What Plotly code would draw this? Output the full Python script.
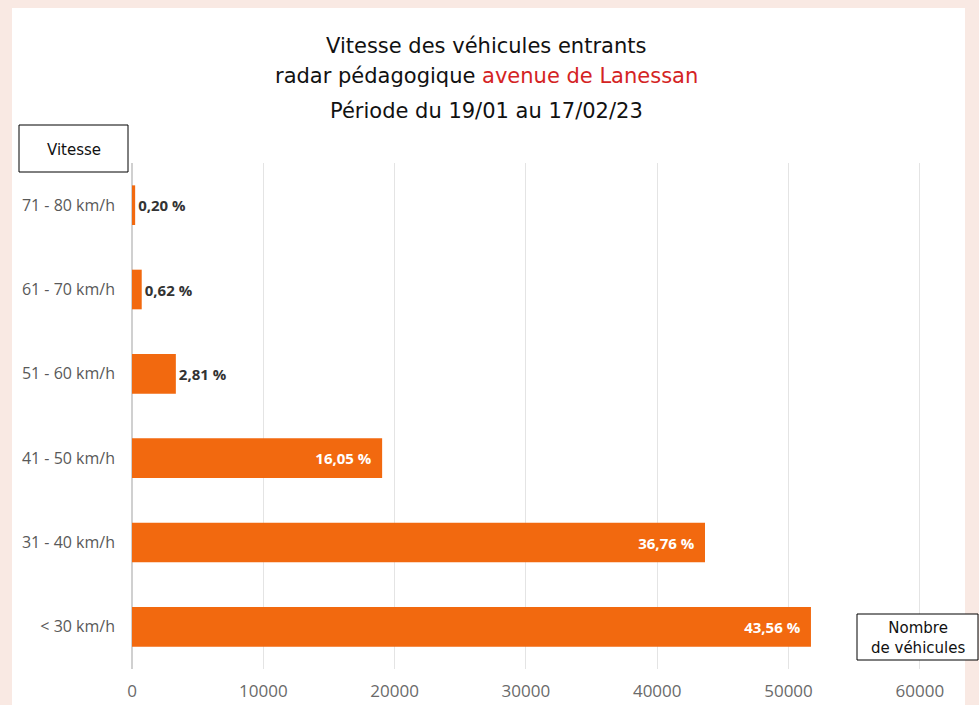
import plotly.graph_objects as go

categories = ["< 30 km/h", "31 - 40 km/h", "41 - 50 km/h", "51 - 60 km/h", "61 - 70 km/h", "71 - 80 km/h"]
vehicles = [51710, 43640, 19050, 3340, 740, 240]
pct_labels = ["43,56 %", "36,76 %", "16,05 %", "2,81 %", "0,62 %", "0,20 %"]
x_ticks = [0, 10000, 20000, 30000, 40000, 50000, 60000]

positions = ["inside", "inside", "inside", "outside", "outside", "outside"]
text_colors = ["white", "white", "white", "#333333", "#333333", "#333333"]
bar_text = [("<b>" + t + "</b>\u00a0\u00a0") if p == "inside" else ("<b>" + t + "</b>")
            for t, p in zip(pct_labels, positions)]

fig = go.Figure()
fig.add_trace(go.Bar(
    y=categories, x=vehicles, orientation="h",
    marker=dict(color="#f2690f", line=dict(width=0)),
    width=0.47,
    text=bar_text, textposition=positions,
    insidetextanchor="end",
    textfont=dict(color=text_colors, size=15, family="Open Sans"),
    cliponaxis=False,
))

W, H = 979, 705
L, R, T, B = 132, 24, 163, 36
pw, ph = W - L - R, H - T - B

def px(x):
    return (x - L) / pw

def py(y):
    return (H - B - y) / ph

shapes = [
    dict(type="rect", xref="paper", yref="paper", x0=px(12), x1=px(965), y0=py(720), y1=py(8),
         fillcolor="white", line=dict(width=0), layer="below"),
    dict(type="rect", xref="paper", yref="paper", x0=px(19), x1=px(128), y0=py(172), y1=py(125),
         fillcolor="white", line=dict(color="black", width=1)),
    dict(type="rect", xref="paper", yref="paper", x0=px(857), x1=px(978), y0=py(660), y1=py(614),
         fillcolor="white", line=dict(color="black", width=1)),
]

tfont = dict(family="DejaVu Sans", size=21, color="#111111")
annotations = [
    dict(text="Vitesse des véhicules entrants", x=px(486), y=py(46), xref="paper", yref="paper",
         showarrow=False, font=tfont, xanchor="center", yanchor="middle"),
    dict(text="radar pédagogique <span style='color:#d42323'>avenue de Lanessan</span>", x=px(486), y=py(76),
         xref="paper", yref="paper", showarrow=False, font=tfont, xanchor="center", yanchor="middle"),
    dict(text="Période du 19/01 au 17/02/23", x=px(486), y=py(111), xref="paper", yref="paper",
         showarrow=False, font=tfont, xanchor="center", yanchor="middle"),
    dict(text="Vitesse", x=px(73.5), y=py(150), xref="paper", yref="paper", showarrow=False,
         font=dict(family="DejaVu Sans", size=15, color="#111111"), xanchor="center", yanchor="middle"),
    dict(text="Nombre<br>de véhicules", x=px(917.5), y=py(638), xref="paper", yref="paper", showarrow=False,
         font=dict(family="DejaVu Sans", size=15, color="#111111"), xanchor="center", yanchor="middle"),
]

fig.update_layout(
    width=W, height=H,
    margin=dict(l=L, r=R, t=T, b=B, autoexpand=False),
    paper_bgcolor="#f9e9e3", plot_bgcolor="white",
    showlegend=False,
    shapes=shapes, annotations=annotations,
    bargap=0.5,
    uniformtext=dict(minsize=8, mode="show"),
)
fig.update_xaxes(range=[0, 62680], tickvals=x_ticks, ticktext=[str(v) for v in x_ticks],
                 showgrid=True, gridcolor="#e4e4e4", gridwidth=1, zeroline=True, zerolinecolor="#d0d0d0",
                 tickfont=dict(family="Open Sans", size=17, color="#6a6a6a"), ticks="", ticklabelstandoff=10,
                 automargin=False, fixedrange=True)
fig.update_yaxes(categoryorder="array", categoryarray=categories, showgrid=False,
                 tickfont=dict(family="Open Sans", size=16, color="#595959"), ticks="",
                 ticklabelstandoff=16, showline=False, automargin=False, fixedrange=True)

fig.write_html("out.html", config={"displayModeBar": False},
               post_script="document.body.style.margin='0';document.body.style.overflow='hidden';")
